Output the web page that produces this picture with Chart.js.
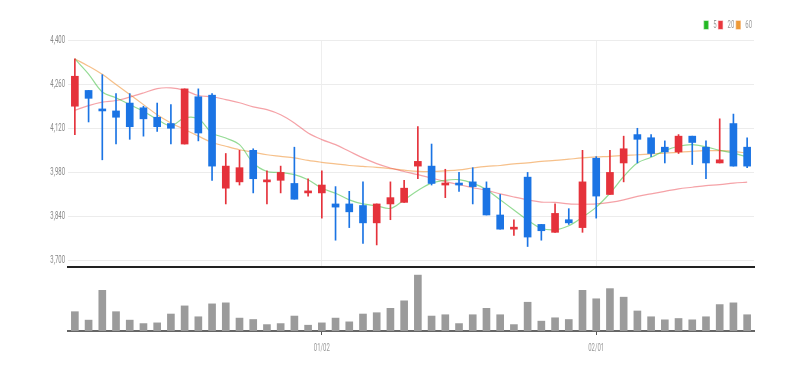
<!DOCTYPE html>
<html>
<head>
<meta charset="utf-8">
<script src="https://cdn.jsdelivr.net/npm/chart.js"></script>
<style>
  body { margin: 0; background: #fff; }
  #wrap { position: relative; width: 805px; height: 371px; }
  #priceBox { position: absolute; left: 0; top: 0; width: 805px; height: 276px; }
  #volBox { position: absolute; left: 0; top: 268px; width: 805px; height: 103px; }
</style>
</head>
<body>
<div id="wrap">
  <div id="priceBox"><canvas id="price" width="805" height="276"></canvas></div>
  <div id="volBox"><canvas id="volume" width="805" height="103"></canvas></div>
</div>
<script>
// trading days (Dec 2022 - Feb 2023)
const dates = [
  "12/06","12/07","12/08","12/09","12/12","12/13","12/14","12/15","12/16","12/19",
  "12/20","12/21","12/22","12/23","12/26","12/27","12/28","12/29",
  "01/02","01/03","01/04","01/05","01/06","01/09","01/10","01/11","01/12","01/13",
  "01/16","01/17","01/18","01/19","01/20","01/25","01/26","01/27","01/30","01/31",
  "02/01","02/02","02/03","02/06","02/07","02/08","02/09","02/10","02/13","02/14","02/15","02/16"
];
const tickDates = ["01/02", "02/01"];
const priceTicks = [3700, 3840, 3980, 4120, 4260, 4400];

const openP  = [4190,4240,4180,4175,4200,4185,4155,4135,4070,4220,4225,3930,3950,4050,3950,3955,3945,3915,3915,3880,
                3880,3875,3820,3880,3885,4000,4000,3940,3945,3950,3930,3845,3800,3965,3815,3790,3830,3805,4025,3910,
                4010,4100,4090,4060,4045,4095,4060,4010,4135,4060];
const highP  = [4340,4240,4290,4230,4230,4190,4200,4195,4245,4245,4230,4040,4050,4055,3985,4000,4060,3960,3985,3935,
                3920,3950,3880,3950,3955,4125,4070,3990,3980,3995,3950,3910,3830,3980,3815,3880,3865,4050,4030,4050,
                4095,4120,4100,4080,4100,4095,4080,4150,4165,4090];
const lowP   = [4100,4140,4020,4070,4085,4095,4110,4070,4070,4080,3955,3880,3940,3915,3880,3915,3895,3905,3835,3765,
                3805,3755,3750,3830,3885,3960,3940,3900,3920,3880,3845,3800,3780,3745,3765,3790,3815,3790,3835,3910,
                3950,4010,4030,4010,4040,4005,3960,4010,4000,3995];
const closeP = [4285,4215,4175,4155,4125,4150,4125,4120,4245,4105,4000,4000,3995,3960,3955,3980,3895,3920,3940,3870,
                3855,3820,3880,3900,3930,4015,3945,3945,3940,3935,3845,3800,3805,3775,3795,3850,3820,3950,3905,3980,
                4055,4085,4040,4045,4095,4075,4010,4020,4000,4000];
const volume = [190,107,400,190,107,73,80,167,247,140,267,277,127,113,63,73,147,57,80,127,
                90,167,180,223,297,550,147,160,73,160,223,160,63,283,97,130,113,400,317,417,
                333,197,140,110,123,110,140,260,277,160].map(v => v * 1000);
const ma5  = [4340,4292,4235,4217,4195,4174,4148,4128,4153,4150,4105,4089,4068,4010,3983,3980,3973,3957,3930,3914,
              3893,3880,3874,3866,3893,3923,3946,3955,3957,3946,3925,3893,3861,3829,3803,3798,3811,3838,3870,3914,
              3967,4010,4028,4049,4063,4068,4061,4050,4041,4029];
const ma20 = [4177,4192,4203,4208,4219,4232,4246,4248,4240,4224,4220,4211,4201,4188,4179,4163,4137,4105,4084,4068,
              4047,4026,4008,3994,3983,3973,3962,3951,3941,3932,3923,3912,3902,3893,3886,3885,3880,3879,3880,3885,
              3893,3904,3912,3920,3928,3933,3938,3941,3946,3949];
const ma60 = [4340,4317,4291,4259,4227,4195,4163,4137,4116,4095,4075,4063,4052,4044,4036,4031,4026,4018,4012,4007,
              4002,3999,3996,3992,3987,3983,3983,3985,3988,3994,3999,4002,4007,4010,4015,4018,4022,4026,4029,4031,
              4034,4036,4039,4041,4044,4047,4049,4049,4047,4041];

const UP = "#e5323b";
const DOWN = "#1b74e4";
const candleColor = openP.map((o, i) => (closeP[i] >= o ? UP : DOWN));
const FONT = "Roboto, 'DejaVu Sans', sans-serif";
const AXIS_W = 68;

const isMonthTick = (i) => tickDates.includes(dates[i]);

// the original labels are drawn in a very narrow face, squeeze text horizontally
function narrowText(canvas, k) {
  const ctx = canvas.getContext("2d");
  const fill = ctx.fillText.bind(ctx);
  const measure = ctx.measureText.bind(ctx);
  ctx.fillText = (text, x, y) => {
    ctx.save();
    ctx.translate(x, y);
    ctx.scale(k, 1);
    fill(text, 0, 0);
    ctx.restore();
  };
  ctx.measureText = (text) => {
    const m = measure(text);
    return {
      width: m.width * k,
      actualBoundingBoxAscent: m.actualBoundingBoxAscent,
      actualBoundingBoxDescent: m.actualBoundingBoxDescent,
    };
  };
}

const priceCanvas = document.getElementById("price");
const volCanvas = document.getElementById("volume");
narrowText(priceCanvas, 0.6);
narrowText(volCanvas, 0.6);

const maLine = (label, data, line, solid) => ({
  type: "line",
  label,
  data,
  borderColor: line,
  backgroundColor: solid,
  borderWidth: 1.2,
  pointRadius: 0,
  tension: 0.35,
  fill: false,
  order: 2,
});

new Chart(priceCanvas, {
  type: "bar",
  data: {
    labels: dates,
    datasets: [
      {
        label: "body",
        data: openP.map((o, i) => [o, closeP[i]]),
        backgroundColor: candleColor,
        barThickness: 7,
        minBarLength: 2,
        grouped: false,
        order: 0,
      },
      {
        label: "wick",
        data: lowP.map((l, i) => [l, highP[i]]),
        backgroundColor: candleColor,
        barThickness: 1,
        grouped: false,
        order: 1,
      },
      maLine("5", ma5, "rgba(60, 190, 60, 0.55)", "#22b822"),
      maLine("20", ma20, "rgba(235, 70, 80, 0.5)", "#e8373d"),
      maLine("60", ma60, "rgba(240, 150, 60, 0.6)", "#ee9a36"),
    ],
  },
  options: {
    responsive: false,
    animation: false,
    devicePixelRatio: 1,
    layout: { padding: { top: 18, right: 51, bottom: 0, left: 0 } },
    plugins: {
      tooltip: { enabled: false },
      legend: {
        position: "top",
        align: "end",
        labels: {
          filter: (item) => item.datasetIndex >= 2,
          boxWidth: 4,
          boxHeight: 8,
          padding: 2,
          color: "#999",
          font: { family: FONT, size: 10 },
        },
      },
    },
    scales: {
      x: {
        offset: true,
        ticks: { display: false, autoSkip: false },
        grid: {
          offset: false,
          drawTicks: false,
          color: (ctx) => (isMonthTick(ctx.index) ? "#eeeeee" : "transparent"),
        },
        border: { display: true, color: "#222", width: 2 },
      },
      y: {
        min: 3680,
        max: 4400,
        afterBuildTicks: (scale) => {
          scale.ticks = priceTicks.map((v) => ({ value: v }));
        },
        afterFit: (scale) => {
          scale.width = AXIS_W;
        },
        ticks: {
          padding: 3,
          color: "#888",
          font: { family: FONT, size: 10 },
          callback: (v) => v.toLocaleString("en-US"),
        },
        grid: { color: "#ececec", drawTicks: false },
        border: { display: false },
      },
    },
  },
});

new Chart(volCanvas, {
  type: "bar",
  data: {
    labels: dates,
    datasets: [
      {
        label: "volume",
        data: volume,
        backgroundColor: "#9b9b9b",
        barThickness: 7,
      },
    ],
  },
  options: {
    responsive: false,
    animation: false,
    devicePixelRatio: 1,
    layout: { padding: { top: 0, right: 51, bottom: 10, left: 0 } },
    plugins: { legend: { display: false }, tooltip: { enabled: false } },
    scales: {
      x: {
        offset: true,
        ticks: {
          autoSkip: false,
          maxRotation: 0,
          padding: 7,
          color: "#999",
          font: { family: FONT, size: 10 },
          callback: (v, i) => (isMonthTick(i) ? dates[i] : ""),
        },
        grid: {
          offset: false,
          drawOnChartArea: false,
          tickLength: 4,
          tickColor: (ctx) => (isMonthTick(ctx.index) ? "#555" : "transparent"),
        },
        border: { display: true, color: "#666", width: 2 },
      },
      y: {
        min: 0,
        max: 620000,
        afterFit: (scale) => {
          scale.width = AXIS_W;
        },
        ticks: { display: false },
        grid: { display: false },
        border: { display: false },
      },
    },
  },
});
</script>
</body>
</html>
